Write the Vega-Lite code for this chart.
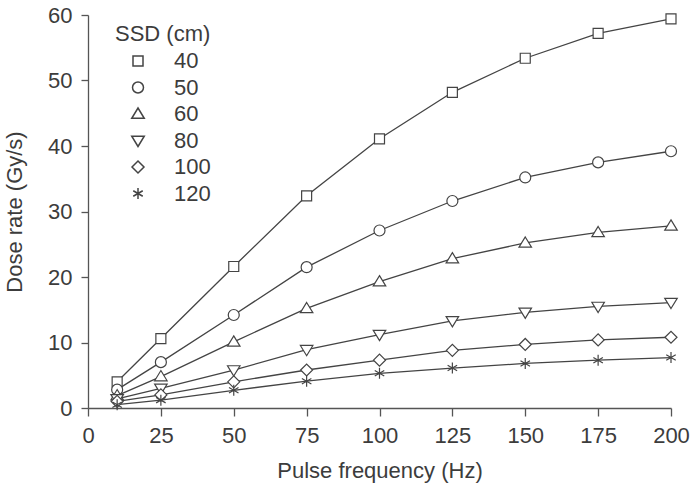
{
  "$schema": "https://vega.github.io/schema/vega-lite/v6.json",
  "width": 583,
  "height": 393,
  "autosize": {"type": "none"},
  "padding": {"left": 88, "top": 15, "right": 21, "bottom": 78},
  "background": "white",
  "config": {
    "view": {"stroke": null},
    "font": "Liberation Sans",
    "axis": {
      "grid": false,
      "domainColor": "#555555",
      "domainWidth": 1.3,
      "tickColor": "#555555",
      "tickWidth": 1.3,
      "labelColor": "#3c3c3c",
      "titleColor": "#3c3c3c",
      "labelFontSize": 22,
      "titleFontSize": 22,
      "titleFontWeight": "normal",
      "labelFont": "Liberation Sans",
      "titleFont": "Liberation Sans"
    }
  },
  "data": {
    "values": [
      {"f": 10, "ssd": "40", "rate": 4.0}, {"f": 25, "ssd": "40", "rate": 10.6}, {"f": 50, "ssd": "40", "rate": 21.6},
      {"f": 75, "ssd": "40", "rate": 32.4}, {"f": 100, "ssd": "40", "rate": 41.1}, {"f": 125, "ssd": "40", "rate": 48.2},
      {"f": 150, "ssd": "40", "rate": 53.4}, {"f": 175, "ssd": "40", "rate": 57.2}, {"f": 200, "ssd": "40", "rate": 59.4},
      {"f": 10, "ssd": "50", "rate": 2.8}, {"f": 25, "ssd": "50", "rate": 7.0}, {"f": 50, "ssd": "50", "rate": 14.2},
      {"f": 75, "ssd": "50", "rate": 21.5}, {"f": 100, "ssd": "50", "rate": 27.1}, {"f": 125, "ssd": "50", "rate": 31.6},
      {"f": 150, "ssd": "50", "rate": 35.2}, {"f": 175, "ssd": "50", "rate": 37.5}, {"f": 200, "ssd": "50", "rate": 39.2},
      {"f": 10, "ssd": "60", "rate": 1.9}, {"f": 25, "ssd": "60", "rate": 4.8}, {"f": 50, "ssd": "60", "rate": 10.1},
      {"f": 75, "ssd": "60", "rate": 15.2}, {"f": 100, "ssd": "60", "rate": 19.3}, {"f": 125, "ssd": "60", "rate": 22.8},
      {"f": 150, "ssd": "60", "rate": 25.2}, {"f": 175, "ssd": "60", "rate": 26.8}, {"f": 200, "ssd": "60", "rate": 27.8},
      {"f": 10, "ssd": "80", "rate": 1.4}, {"f": 25, "ssd": "80", "rate": 3.0}, {"f": 50, "ssd": "80", "rate": 5.8},
      {"f": 75, "ssd": "80", "rate": 8.9}, {"f": 100, "ssd": "80", "rate": 11.2}, {"f": 125, "ssd": "80", "rate": 13.3},
      {"f": 150, "ssd": "80", "rate": 14.6}, {"f": 175, "ssd": "80", "rate": 15.5}, {"f": 200, "ssd": "80", "rate": 16.1},
      {"f": 10, "ssd": "100", "rate": 1.0}, {"f": 25, "ssd": "100", "rate": 2.0}, {"f": 50, "ssd": "100", "rate": 4.0},
      {"f": 75, "ssd": "100", "rate": 5.8}, {"f": 100, "ssd": "100", "rate": 7.3}, {"f": 125, "ssd": "100", "rate": 8.8},
      {"f": 150, "ssd": "100", "rate": 9.7}, {"f": 175, "ssd": "100", "rate": 10.4}, {"f": 200, "ssd": "100", "rate": 10.8},
      {"f": 10, "ssd": "120", "rate": 0.5}, {"f": 25, "ssd": "120", "rate": 1.2}, {"f": 50, "ssd": "120", "rate": 2.7},
      {"f": 75, "ssd": "120", "rate": 4.1}, {"f": 100, "ssd": "120", "rate": 5.3}, {"f": 125, "ssd": "120", "rate": 6.1},
      {"f": 150, "ssd": "120", "rate": 6.8}, {"f": 175, "ssd": "120", "rate": 7.3}, {"f": 200, "ssd": "120", "rate": 7.7}
    ]
  },
  "encoding": {
    "x": {
      "field": "f",
      "type": "quantitative",
      "scale": {"domain": [0, 200], "nice": false, "zero": false},
      "axis": {
        "title": "Pulse frequency (Hz)",
        "values": [0, 25, 50, 75, 100, 125, 150, 175, 200],
        "tickSize": 8,
        "labelPadding": 9,
        "titlePadding": 14,
        "labelFlush": false,
        "labelOverlap": false
      }
    },
    "y": {
      "field": "rate",
      "type": "quantitative",
      "scale": {"domain": [0, 60], "nice": false},
      "axis": {
        "title": "Dose rate (Gy/s)",
        "values": [0, 10, 20, 30, 40, 50, 60],
        "tickSize": 7,
        "labelPadding": 9,
        "titlePadding": 21,
        "labelFlush": false,
        "labelOverlap": false
      }
    }
  },
  "layer": [
    {
      "mark": {"type": "line", "color": "#444444", "strokeWidth": 1.3},
      "encoding": {"detail": {"field": "ssd", "type": "nominal"}}
    },
    {
      "mark": {"type": "point", "filled": true, "fill": "white", "stroke": "#444444", "strokeWidth": 1.2, "size": 100, "opacity": 1},
      "encoding": {
        "shape": {
          "field": "ssd",
          "type": "nominal",
          "scale": {
            "domain": ["40", "50", "60", "80", "100", "120"],
            "range": [
              "M-1,-1H1V1H-1Z",
              "M-1.1,0A1.1,1.1,0,1,1,1.1,0A1.1,1.1,0,1,1,-1.1,0Z",
              "M0,-1.2L1.25,0.85H-1.25Z",
              "M0,1.2L1.25,-0.85H-1.25Z",
              "M-1.2,0L0,-1.2L1.2,0L0,1.2Z",
              "M0,-1.1V1.1M-0.95,-0.55L0.95,0.55M-0.95,0.55L0.95,-0.55"
            ]
          },
          "legend": {
            "title": "SSD (cm)",
            "orient": "none",
            "legendX": 27,
            "legendY": 9,
            "padding": 0,
            "titleFontSize": 22,
            "titleFontWeight": "normal",
            "titleColor": "#3c3c3c",
            "titlePadding": 4,
            "labelFontSize": 22,
            "labelColor": "#3c3c3c",
            "symbolOffset": 12,
            "labelOffset": 25,
            "rowPadding": 4.5,
            "encode": {
              "symbols": {
                "shape": {
                  "value": {
                    "expr": "datum.value === '40' ? 'M-1,-1H1V1H-1ZM-4.6,0H-1M1,0H4.6' : datum.value === '50' ? 'M-1.1,0A1.1,1.1,0,1,1,1.1,0A1.1,1.1,0,1,1,-1.1,0ZM-4.6,0H-1.1M1.1,0H4.6' : datum.value === '60' ? 'M0,-1.2L1.25,0.85H-1.25ZM-4.6,0H-0.73M0.73,0H4.6' : datum.value === '80' ? 'M0,1.2L1.25,-0.85H-1.25ZM-4.6,0H-0.73M0.73,0H4.6' : datum.value === '100' ? 'M-1.2,0L0,-1.2L1.2,0L0,1.2ZM-4.6,0H-1.2M1.2,0H4.6' : 'M-4.6,0H4.6M0,-1.1V1.1M-0.95,-0.55L0.95,0.55M-0.95,0.55L0.95,-0.55'"
                  }
                }
              }
            }
          }
        }
      }
    }
  ]
}
